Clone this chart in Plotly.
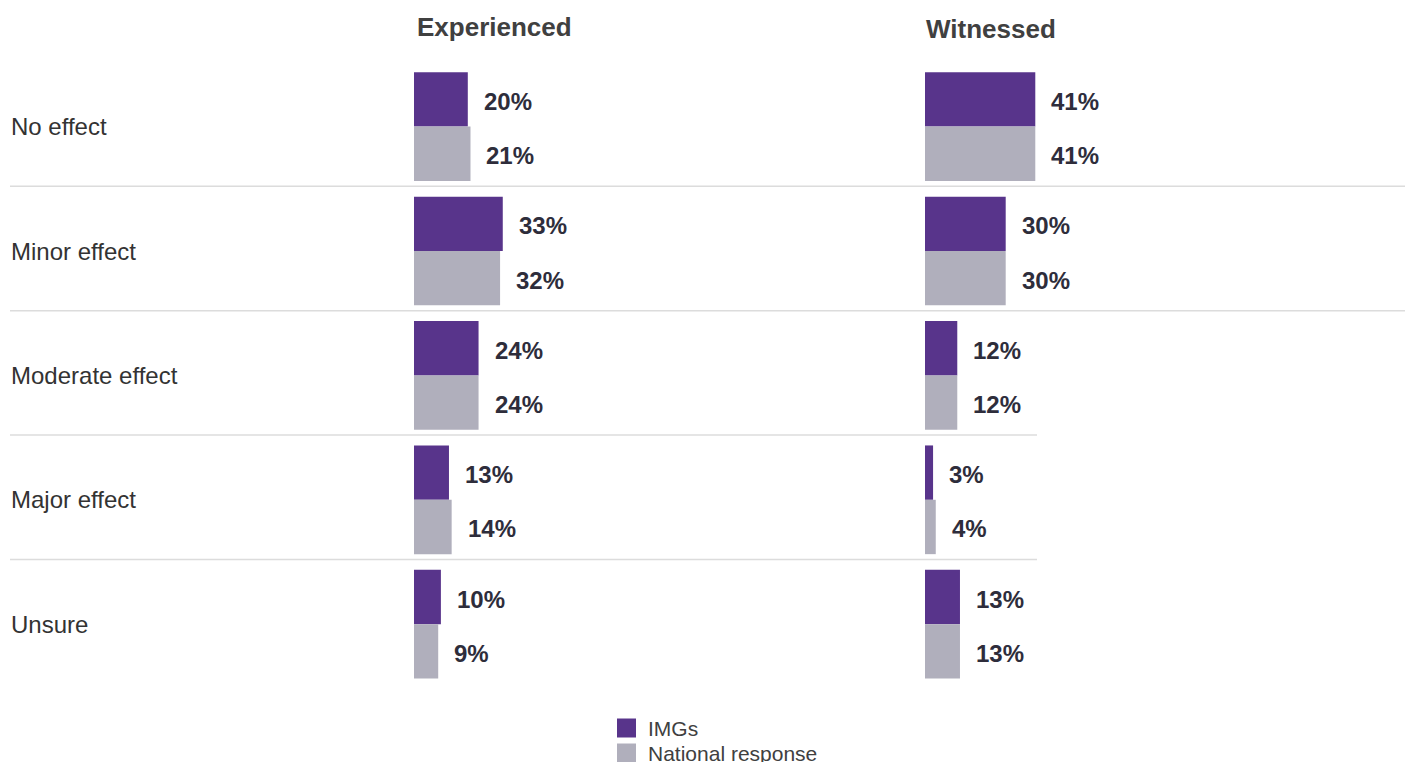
import plotly.graph_objects as go

# ── Data ──────────────────────────────────────────────────────────────────────
CATEGORIES = ["No effect", "Minor effect", "Moderate effect", "Major effect", "Unsure"]
PANELS = ["Experienced", "Witnessed"]
SERIES = ["IMGs", "National response"]

EXP_IMGS = [20, 33, 24, 13, 10]
EXP_NATIONAL = [21, 32, 24, 14, 9]
WIT_IMGS = [41, 30, 12, 3, 13]
WIT_NATIONAL = [41, 30, 12, 4, 13]

# ── Style ─────────────────────────────────────────────────────────────────────
C = {
    "imgs": "#58348b",
    "nat": "#b0afbc",
    "value": "#2e2d3b",
    "title": "#404040",
    "cat": "#333333",
    "rule": "#dcdcdc",
}
FONT = "Liberation Sans, Arial, sans-serif"

# the page body has an 8px margin, so lay out in page pixels and shift back
OFF = 8
PAGE_W, PAGE_H = 1413, 762
W, H = PAGE_W - OFF, PAGE_H - OFF


def px_x(p):
    return (p - OFF) / W


def px_y(p):
    return 1 - (p - OFF) / H


PX_PER_PCT = 2.69          # horizontal scale, pixels per percentage point
ROW_PX = 124.4             # row pitch in pixels
ROW0_PX = 126.6 - OFF      # pixel centre of first row (figure space)
BAR_W = 0.437              # each bar's thickness in row units

X1 = (414, 900)            # page-pixel span of the Experienced axis
X2 = (925, PAGE_W)         # page-pixel span of the Witnessed axis

y_top = -ROW0_PX / ROW_PX
y_bot = y_top + H / ROW_PX
rows = list(range(len(CATEGORIES)))

fig = go.Figure()

panel_data = [
    ("x", "y", EXP_IMGS, EXP_NATIONAL),
    ("x2", "y2", WIT_IMGS, WIT_NATIONAL),
]

for xa, ya, imgs, nat in panel_data:
    for name, vals, color, off in [
        (SERIES[0], imgs, C["imgs"], -BAR_W),
        (SERIES[1], nat, C["nat"], 0),
    ]:
        fig.add_trace(go.Bar(
            x=vals, y=rows, orientation="h",
            name=name, showlegend=False,
            width=BAR_W, offset=off,
            marker=dict(color=color, line_width=0),
            xaxis=xa, yaxis=ya,
            hovertemplate=f"<b>{name}</b><br>%{{x}}%<extra></extra>",
        ))
        # value labels
        for r, v in zip(rows, vals):
            fig.add_annotation(
                x=v, y=r + off + BAR_W / 2, xref=xa, yref=ya,
                text=f"{v}%", showarrow=False,
                xanchor="left", yanchor="middle", xshift=14, yshift=-2,
                font=dict(family=FONT, size=24, color=C["value"], weight="bold"),
            )

# category labels
for r, cat in zip(rows, CATEGORIES):
    fig.add_annotation(
        x=px_x(9), y=r, xref="paper", yref="y",
        text=cat, showarrow=False, xanchor="left", yanchor="middle",
        font=dict(family=FONT, size=24, color=C["cat"]),
    )

# panel titles
for txt, tx, ty in [(PANELS[0], 415, 27), (PANELS[1], 924, 29)]:
    fig.add_annotation(
        x=px_x(tx), y=px_y(ty), xref="paper", yref="paper",
        text=txt, showarrow=False, xanchor="left", yanchor="middle",
        font=dict(family=FONT, size=26, color=C["title"], weight="bold"),
    )

# row dividers
for r in rows[:-1]:
    x_end = PAGE_W if r < 2 else 1037
    fig.add_shape(
        type="line", xref="paper", yref="y",
        x0=px_x(10), x1=px_x(x_end), y0=r + 0.48, y1=r + 0.48,
        line=dict(color=C["rule"], width=1.5),
    )

# legend
for i, (name, color) in enumerate([(SERIES[0], C["imgs"]), (SERIES[1], C["nat"])]):
    cy = 728 + i * 25
    fig.add_shape(
        type="rect", xref="paper", yref="paper",
        x0=px_x(617), x1=px_x(636), y0=px_y(cy - 9.5), y1=px_y(cy + 9.5),
        fillcolor=color, line_width=0,
    )
    fig.add_annotation(
        x=px_x(646), y=px_y(cy), xref="paper", yref="paper",
        text=name, showarrow=False, xanchor="left", yanchor="middle",
        font=dict(family=FONT, size=21, color=C["title"]),
    )

axis_common = dict(visible=False, showgrid=False, zeroline=False, fixedrange=True)
fig.update_layout(
    width=W, height=H,
    margin=dict(l=0, r=0, t=0, b=0),
    paper_bgcolor="#ffffff", plot_bgcolor="#ffffff",
    barmode="overlay", showlegend=False,
    font=dict(family=FONT),
    xaxis=dict(domain=[px_x(X1[0]), px_x(X1[1])],
               range=[0, (X1[1] - X1[0]) / PX_PER_PCT], anchor="y", **axis_common),
    xaxis2=dict(domain=[px_x(X2[0]), 1],
                range=[0, (X2[1] - X2[0]) / PX_PER_PCT], anchor="y2", **axis_common),
    yaxis=dict(domain=[0, 1], range=[y_bot, y_top], anchor="x", **axis_common),
    yaxis2=dict(domain=[0, 1], range=[y_bot, y_top], anchor="x2", **axis_common),
)

fig.write_html("out.html")
